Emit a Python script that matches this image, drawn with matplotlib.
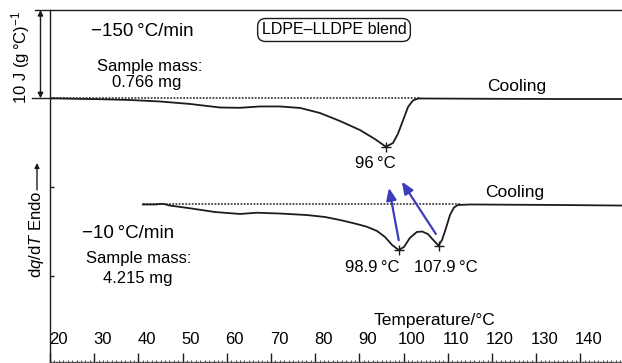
import matplotlib
matplotlib.use('Agg')
import matplotlib.pyplot as plt
from matplotlib.lines import Line2D
from matplotlib.transforms import ScaledTranslation
import numpy as np

plt.rcParams['font.family'] = ['Liberation Sans', 'DejaVu Sans']
plt.rcParams['mathtext.fontset'] = 'custom'
plt.rcParams['mathtext.rm'] = 'Liberation Sans'
plt.rcParams['mathtext.it'] = 'Liberation Sans:italic'

# -150 C/min trace (J/(g C), baseline at 0)
temp_fast = [20.0, 25.2, 31.3, 38.1, 44.9, 51.7, 58.5, 63.0, 67.5, 72.0, 76.6, 81.1,
             85.6, 90.1, 93.5, 96.0, 97.6, 98.7, 99.9, 101.0, 102.1, 103.3, 108.2,
             121.8, 135.4, 149.4]
heat_fast = [0.0, -0.05, -0.10, -0.19, -0.36, -0.64, -1.04, -1.07, -0.92, -0.92, -1.09,
             -1.66, -2.56, -3.57, -4.59, -5.46, -5.04, -4.02, -2.45, -0.98, -0.25,
             -0.02, -0.03, -0.06, -0.08, -0.08]

# -10 C/min trace (shifted down)
temp_slow = [41.0, 43.8, 45.6, 47.1, 51.7, 57.3, 63.0, 66.8, 72.0, 78.1, 82.2, 85.6,
             89.0, 91.7, 94.0, 95.8, 97.4, 98.9, 100.1, 101.4, 103.0, 104.2, 105.5,
             106.7, 107.9, 108.7, 109.6, 110.5, 111.4, 112.3, 115.0, 135.4, 149.4]
heat_slow = [-11.97, -11.97, -11.89, -12.09, -12.40, -12.82, -13.04, -12.90, -12.99,
             -13.16, -13.38, -13.72, -14.12, -14.48, -14.96, -15.64, -16.54, -17.10,
             -16.76, -15.75, -15.07, -15.02, -15.30, -15.97, -16.60, -15.97, -14.62,
             -13.15, -12.31, -12.03, -11.97, -12.03, -12.09]

peak_fast_t = [96.0]
peak_fast_y = [-5.46]
peak_slow_t = [98.9, 107.9]
peak_slow_y = [-17.10, -16.60]

base_fast = 0.0
base_slow = -11.97

xticks = list(range(20, 150, 10))
yticks = [0, -10, -20]

W, H = 622, 363


def fp(x, y):
    # pixel position (from top-left) -> figure fraction
    return x / W, 1 - y / H


fig = plt.figure(figsize=(6.22, 3.63), dpi=100)
ax = fig.add_axes([50 / W, 1.5 / H, 572 / W, 351.5 / H])
ink = '#1c1c1c'

ax.plot([20, 104], [base_fast, base_fast], color='#444444', lw=1.3, ls=(0, (1.0, 0.8)))
ax.plot([41, 113], [base_slow, base_slow], color='#444444', lw=1.3, ls=(0, (1.0, 0.8)))
ax.plot(temp_fast, heat_fast, color=ink, lw=1.3)
ax.plot(temp_slow, heat_slow, color=ink, lw=1.3)
ax.plot(peak_fast_t, peak_fast_y, '+', color=ink, ms=7, mew=1.0)
ax.plot(peak_slow_t, peak_slow_y, '+', color=ink, ms=7, mew=1.0)

# blue arrows from the two peaks
blue = '#3d3db8'
ax.annotate('', xy=(96.7, -10.1), xytext=(98.9, -16.0),
            arrowprops=dict(arrowstyle='-|>,head_length=0.6,head_width=0.25', color=blue,
                            lw=1.6, mutation_scale=12, shrinkA=0, shrinkB=0))
ax.annotate('', xy=(99.6, -9.4), xytext=(107.3, -15.3),
            arrowprops=dict(arrowstyle='-|>,head_length=0.6,head_width=0.25', color=blue,
                            lw=1.6, mutation_scale=12, shrinkA=0, shrinkB=0))

ax.set_xlim(20, 20 + 572 / 4.42)
ax.set_ylim((98.3 - 361.5) / 8.87, (98.3 - 10) / 8.87)

for s in ['top', 'left']:
    ax.spines[s].set_linewidth(1.0)
    ax.spines[s].set_color(ink)
ax.spines['right'].set_visible(False)
ax.spines['bottom'].set_linestyle((0, (1, 1.2)))
ax.spines['bottom'].set_linewidth(1.0)
ax.spines['bottom'].set_color('#444444')

ax.set_xticks(xticks, [str(t) for t in xticks])
ax.set_xticks(np.arange(20, 150, 1), minor=True)
ax.tick_params(axis='x', which='major', direction='in', length=6.5, width=1.0,
               color=ink, labelsize=12, pad=-21)
ax.tick_params(axis='x', which='minor', direction='in', length=1.8, width=0.7, color='#444444')
off = ScaledTranslation(8 / 100, 0, fig.dpi_scale_trans)
for lab in ax.get_xticklabels():
    lab.set_transform(lab.get_transform() + off)

ax.set_yticks(yticks)
ax.tick_params(axis='y', direction='in', length=3, width=1.0, color=ink, labelleft=False)

# extended top line and scale bar
fig.add_artist(Line2D([35 / W, 50 / W], [1 - 10 / H] * 2, color=ink, lw=1.0))
fig.add_artist(Line2D([32 / W, 50 / W], [1 - 98.3 / H] * 2, color=ink, lw=1.0))
ax.annotate('', xy=(40.5, H - 10), xytext=(40.5, H - 98.3),
            xycoords='figure pixels', textcoords='figure pixels',
            arrowprops=dict(arrowstyle='<|-|>', color=ink, lw=1.0, mutation_scale=8,
                            shrinkA=0, shrinkB=0))
fig.text(*fp(21, 57), '10 J (g\u2009°C)$^{-1}$', rotation=90, ha='center', va='center', fontsize=12)

fig.text(*fp(37, 234), r'd$q$/d$T$ Endo', rotation=90, ha='center', va='center', fontsize=12)
ax.annotate('', xy=(37, H - 163), xytext=(37, H - 190),
            xycoords='figure pixels', textcoords='figure pixels',
            arrowprops=dict(arrowstyle='-|>', color=ink, lw=1.0, mutation_scale=7,
                            shrinkA=0, shrinkB=0))

txt = dict(ha='center', va='center')
fig.text(*fp(142, 32), '\u2212150\u2009°C/min', fontsize=13.5, **txt)
fig.text(*fp(150, 67), 'Sample mass:', fontsize=12, **txt)
fig.text(*fp(147, 83), '0.766 mg', fontsize=12, **txt)
fig.text(*fp(334, 30), 'LDPE\u2013LLDPE blend', fontsize=11.5,
         bbox=dict(boxstyle='round,pad=0.25,rounding_size=0.5', fc='white', ec=ink, lw=1.0), **txt)
fig.text(*fp(517, 87), 'Cooling', fontsize=12.5, **txt)
fig.text(*fp(375, 163), '96\u2009°C', fontsize=12, **txt)

fig.text(*fp(515, 192), 'Cooling', fontsize=12.5, **txt)
fig.text(*fp(128, 233), '\u221210\u2009°C/min', fontsize=13.5, **txt)
fig.text(*fp(139, 258), 'Sample mass:', fontsize=12, **txt)
fig.text(*fp(138, 278), '4.215 mg', fontsize=12, **txt)
fig.text(*fp(372, 267), '98.9\u2009°C', fontsize=12, **txt)
fig.text(*fp(446, 267), '107.9\u2009°C', fontsize=12, **txt)
fig.text(*fp(435, 320), 'Temperature/°C', fontsize=12.5, **txt)

fig.savefig('out.png', dpi=100)
